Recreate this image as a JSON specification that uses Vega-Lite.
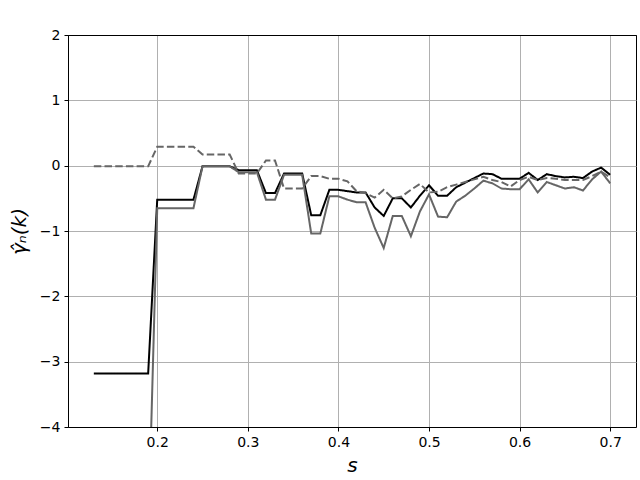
{
  "$schema": "https://vega.github.io/schema/vega-lite/v6.json",
  "width": 568,
  "height": 392,
  "autosize": "none",
  "padding": {"left": 68, "top": 35, "right": 4, "bottom": 53},
  "background": "white",
  "config": {
    "view": {"stroke": "black", "strokeWidth": 1},
    "font": "DejaVu Sans",
    "axis": {
      "grid": true,
      "gridColor": "#b0b0b0",
      "gridWidth": 1,
      "gridOpacity": 1,
      "domain": true,
      "domainColor": "black",
      "domainWidth": 1,
      "tickColor": "black",
      "tickSize": 4,
      "tickWidth": 1,
      "labelFont": "DejaVu Sans",
      "labelFontSize": 14,
      "labelColor": "black",
      "labelPadding": 4,
      "titleFont": "DejaVu Sans",
      "titleFontWeight": "normal",
      "titleFontStyle": "italic",
      "titleFontSize": 20,
      "titleColor": "black"
    }
  },
  "data": {
    "values": [
      {"s": 0.13, "k": "a", "v": -3.18}, {"s": 0.14, "k": "a", "v": -3.18}, {"s": 0.15, "k": "a", "v": -3.18}, {"s": 0.16, "k": "a", "v": -3.18}, {"s": 0.17, "k": "a", "v": -3.18}, {"s": 0.18, "k": "a", "v": -3.18}, {"s": 0.19, "k": "a", "v": -3.18},
      {"s": 0.20, "k": "a", "v": -0.52}, {"s": 0.21, "k": "a", "v": -0.52}, {"s": 0.22, "k": "a", "v": -0.52}, {"s": 0.23, "k": "a", "v": -0.52}, {"s": 0.24, "k": "a", "v": -0.52},
      {"s": 0.25, "k": "a", "v": -0.01}, {"s": 0.26, "k": "a", "v": -0.01}, {"s": 0.27, "k": "a", "v": -0.01}, {"s": 0.28, "k": "a", "v": -0.01},
      {"s": 0.29, "k": "a", "v": -0.07}, {"s": 0.30, "k": "a", "v": -0.07}, {"s": 0.31, "k": "a", "v": -0.07},
      {"s": 0.32, "k": "a", "v": -0.42}, {"s": 0.33, "k": "a", "v": -0.42},
      {"s": 0.34, "k": "a", "v": -0.12}, {"s": 0.35, "k": "a", "v": -0.12}, {"s": 0.36, "k": "a", "v": -0.12},
      {"s": 0.37, "k": "a", "v": -0.76}, {"s": 0.38, "k": "a", "v": -0.76},
      {"s": 0.39, "k": "a", "v": -0.37}, {"s": 0.40, "k": "a", "v": -0.37}, {"s": 0.41, "k": "a", "v": -0.39},
      {"s": 0.42, "k": "a", "v": -0.41}, {"s": 0.43, "k": "a", "v": -0.41}, {"s": 0.44, "k": "a", "v": -0.64},
      {"s": 0.45, "k": "a", "v": -0.77}, {"s": 0.46, "k": "a", "v": -0.5}, {"s": 0.47, "k": "a", "v": -0.5},
      {"s": 0.48, "k": "a", "v": -0.64}, {"s": 0.49, "k": "a", "v": -0.46}, {"s": 0.50, "k": "a", "v": -0.3},
      {"s": 0.51, "k": "a", "v": -0.46}, {"s": 0.52, "k": "a", "v": -0.46}, {"s": 0.53, "k": "a", "v": -0.33},
      {"s": 0.54, "k": "a", "v": -0.26}, {"s": 0.55, "k": "a", "v": -0.19}, {"s": 0.56, "k": "a", "v": -0.12},
      {"s": 0.57, "k": "a", "v": -0.13}, {"s": 0.58, "k": "a", "v": -0.2}, {"s": 0.59, "k": "a", "v": -0.2},
      {"s": 0.60, "k": "a", "v": -0.2}, {"s": 0.61, "k": "a", "v": -0.11}, {"s": 0.62, "k": "a", "v": -0.22},
      {"s": 0.63, "k": "a", "v": -0.13}, {"s": 0.64, "k": "a", "v": -0.16}, {"s": 0.65, "k": "a", "v": -0.18},
      {"s": 0.66, "k": "a", "v": -0.17}, {"s": 0.67, "k": "a", "v": -0.19}, {"s": 0.68, "k": "a", "v": -0.09},
      {"s": 0.69, "k": "a", "v": -0.03}, {"s": 0.70, "k": "a", "v": -0.14},

      {"s": 0.19, "k": "b", "v": -5.7},
      {"s": 0.20, "k": "b", "v": -0.65}, {"s": 0.21, "k": "b", "v": -0.65}, {"s": 0.22, "k": "b", "v": -0.65}, {"s": 0.23, "k": "b", "v": -0.65}, {"s": 0.24, "k": "b", "v": -0.65},
      {"s": 0.25, "k": "b", "v": -0.01}, {"s": 0.26, "k": "b", "v": -0.01}, {"s": 0.27, "k": "b", "v": -0.01}, {"s": 0.28, "k": "b", "v": -0.01},
      {"s": 0.29, "k": "b", "v": -0.1}, {"s": 0.30, "k": "b", "v": -0.1}, {"s": 0.31, "k": "b", "v": -0.1},
      {"s": 0.32, "k": "b", "v": -0.52}, {"s": 0.33, "k": "b", "v": -0.52},
      {"s": 0.34, "k": "b", "v": -0.14}, {"s": 0.35, "k": "b", "v": -0.14}, {"s": 0.36, "k": "b", "v": -0.14},
      {"s": 0.37, "k": "b", "v": -1.04}, {"s": 0.38, "k": "b", "v": -1.04},
      {"s": 0.39, "k": "b", "v": -0.47}, {"s": 0.40, "k": "b", "v": -0.47}, {"s": 0.41, "k": "b", "v": -0.52},
      {"s": 0.42, "k": "b", "v": -0.56}, {"s": 0.43, "k": "b", "v": -0.56}, {"s": 0.44, "k": "b", "v": -0.95},
      {"s": 0.45, "k": "b", "v": -1.26}, {"s": 0.46, "k": "b", "v": -0.77}, {"s": 0.47, "k": "b", "v": -0.77},
      {"s": 0.48, "k": "b", "v": -1.08}, {"s": 0.49, "k": "b", "v": -0.7}, {"s": 0.50, "k": "b", "v": -0.44},
      {"s": 0.51, "k": "b", "v": -0.78}, {"s": 0.52, "k": "b", "v": -0.79}, {"s": 0.53, "k": "b", "v": -0.55},
      {"s": 0.54, "k": "b", "v": -0.46}, {"s": 0.55, "k": "b", "v": -0.35}, {"s": 0.56, "k": "b", "v": -0.23},
      {"s": 0.57, "k": "b", "v": -0.27}, {"s": 0.58, "k": "b", "v": -0.35}, {"s": 0.59, "k": "b", "v": -0.36},
      {"s": 0.60, "k": "b", "v": -0.36}, {"s": 0.61, "k": "b", "v": -0.21}, {"s": 0.62, "k": "b", "v": -0.41},
      {"s": 0.63, "k": "b", "v": -0.25}, {"s": 0.64, "k": "b", "v": -0.3}, {"s": 0.65, "k": "b", "v": -0.35},
      {"s": 0.66, "k": "b", "v": -0.33}, {"s": 0.67, "k": "b", "v": -0.38}, {"s": 0.68, "k": "b", "v": -0.21},
      {"s": 0.69, "k": "b", "v": -0.09}, {"s": 0.70, "k": "b", "v": -0.27},

      {"s": 0.13, "k": "c", "v": -0.01}, {"s": 0.14, "k": "c", "v": -0.01}, {"s": 0.15, "k": "c", "v": -0.01}, {"s": 0.16, "k": "c", "v": -0.01}, {"s": 0.17, "k": "c", "v": -0.01}, {"s": 0.18, "k": "c", "v": -0.01}, {"s": 0.19, "k": "c", "v": -0.01},
      {"s": 0.20, "k": "c", "v": 0.29}, {"s": 0.21, "k": "c", "v": 0.29}, {"s": 0.22, "k": "c", "v": 0.29}, {"s": 0.23, "k": "c", "v": 0.29}, {"s": 0.24, "k": "c", "v": 0.29},
      {"s": 0.25, "k": "c", "v": 0.17}, {"s": 0.26, "k": "c", "v": 0.17}, {"s": 0.27, "k": "c", "v": 0.17}, {"s": 0.28, "k": "c", "v": 0.17},
      {"s": 0.29, "k": "c", "v": -0.12}, {"s": 0.30, "k": "c", "v": -0.12}, {"s": 0.31, "k": "c", "v": -0.12},
      {"s": 0.32, "k": "c", "v": 0.08}, {"s": 0.33, "k": "c", "v": 0.08},
      {"s": 0.34, "k": "c", "v": -0.35}, {"s": 0.35, "k": "c", "v": -0.35}, {"s": 0.36, "k": "c", "v": -0.35},
      {"s": 0.37, "k": "c", "v": -0.16}, {"s": 0.38, "k": "c", "v": -0.16},
      {"s": 0.39, "k": "c", "v": -0.2}, {"s": 0.40, "k": "c", "v": -0.2}, {"s": 0.41, "k": "c", "v": -0.24},
      {"s": 0.42, "k": "c", "v": -0.39}, {"s": 0.43, "k": "c", "v": -0.42}, {"s": 0.44, "k": "c", "v": -0.49},
      {"s": 0.45, "k": "c", "v": -0.37}, {"s": 0.46, "k": "c", "v": -0.5}, {"s": 0.47, "k": "c", "v": -0.47},
      {"s": 0.48, "k": "c", "v": -0.37}, {"s": 0.49, "k": "c", "v": -0.28}, {"s": 0.50, "k": "c", "v": -0.41},
      {"s": 0.51, "k": "c", "v": -0.4}, {"s": 0.52, "k": "c", "v": -0.33}, {"s": 0.53, "k": "c", "v": -0.29},
      {"s": 0.54, "k": "c", "v": -0.25}, {"s": 0.55, "k": "c", "v": -0.21}, {"s": 0.56, "k": "c", "v": -0.17},
      {"s": 0.57, "k": "c", "v": -0.22}, {"s": 0.58, "k": "c", "v": -0.25}, {"s": 0.59, "k": "c", "v": -0.32},
      {"s": 0.60, "k": "c", "v": -0.22}, {"s": 0.61, "k": "c", "v": -0.17}, {"s": 0.62, "k": "c", "v": -0.22},
      {"s": 0.63, "k": "c", "v": -0.19}, {"s": 0.64, "k": "c", "v": -0.2}, {"s": 0.65, "k": "c", "v": -0.22},
      {"s": 0.66, "k": "c", "v": -0.22}, {"s": 0.67, "k": "c", "v": -0.22}, {"s": 0.68, "k": "c", "v": -0.16},
      {"s": 0.69, "k": "c", "v": -0.09}, {"s": 0.70, "k": "c", "v": -0.18}
    ]
  },
  "mark": {"type": "line", "strokeWidth": 2, "clip": true},
  "encoding": {
    "x": {
      "field": "s", "type": "quantitative",
      "scale": {"domain": [0.1015, 0.7285], "nice": false, "zero": false},
      "axis": {"values": [0.2, 0.3, 0.4, 0.5, 0.6, 0.7], "format": ".1f", "title": "s", "titlePadding": 6}
    },
    "y": {
      "field": "v", "type": "quantitative",
      "scale": {"domain": [-4, 2], "nice": false, "zero": false},
      "axis": {
        "values": [-4, -3, -2, -1, 0, 1, 2], "format": "d", "title": "γ̂ₙ(k)", "titlePadding": 10,
        "gridColor": {"condition": {"test": "datum.value == 2", "value": "black"}, "value": "#b0b0b0"}
      }
    },
    "color": {
      "field": "k", "type": "nominal",
      "scale": {"domain": ["a", "b", "c"], "range": ["#000000", "#666666", "#666666"]},
      "legend": null
    },
    "strokeDash": {
      "field": "k", "type": "nominal",
      "scale": {"domain": ["a", "b", "c"], "range": [[1, 0], [1, 0], [7.5, 3.2]]},
      "legend": null
    }
  }
}
